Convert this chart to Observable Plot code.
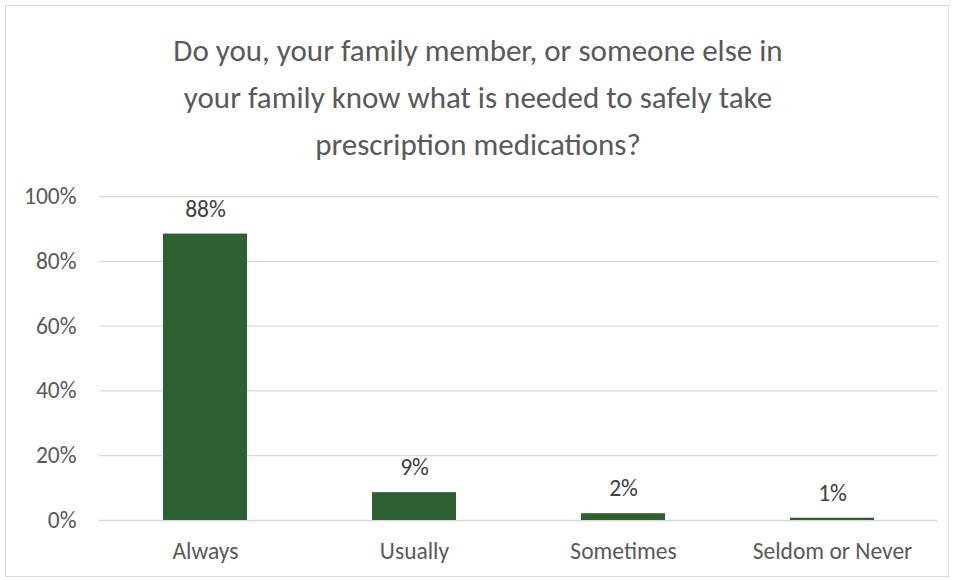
<!DOCTYPE html>
<html>
<head>
<meta charset="utf-8">
<script src="https://cdn.jsdelivr.net/npm/d3@7"></script>
<script src="https://cdn.jsdelivr.net/npm/@observablehq/plot@0.6"></script>
<style>
  html, body { margin: 0; padding: 0; background: #fff; }
  #wrap { position: relative; width: 956px; height: 580px; overflow: hidden; font-family: Carlito, Lato, sans-serif; }
  #frame { position: absolute; left: 5px; top: 5px; width: 944px; height: 572px; border: 1px solid #d9d9d9; box-sizing: border-box; }
  #title { position: absolute; left: 0; width: 956px; top: 27px; text-align: center; color: #595959; font-size: 31px; line-height: 47px; }
  #chart { position: absolute; left: 0; top: 170px; }
  #chart svg text { font-size: 23.5px !important; }
</style>
</head>
<body>
<div id="wrap">
  <div id="frame"></div>
  <div id="title">Do you, your family member, or someone else in<br>your family know what is needed to safely take<br>prescription medications?</div>
  <div id="chart"></div>
</div>
<script>
const categories = ["Always", "Usually", "Sometimes", "Seldom or Never"];
const values = [0.884, 0.086, 0.021, 0.007];
const yTicks = [0, 0.2, 0.4, 0.6, 0.8, 1.0];

const data = categories.map((c, i) => ({category: c, value: values[i]}));
const pct = d3.format(".0%");

const plot = Plot.plot({
  width: 956,
  height: 410,
  marginTop: 26,
  marginBottom: 60,
  marginLeft: 99,
  marginRight: 18,
  style: {fontFamily: "Carlito, Lato, sans-serif", fontSize: "23.5px", color: "#595959", background: "transparent"},
  x: {domain: categories, paddingInner: 0.6, paddingOuter: 0.3, label: null},
  y: {domain: [0, 1], label: null},
  marks: [
    Plot.ruleY(yTicks, {stroke: "#d9d9d9", strokeWidth: 1.3}),
    Plot.axisY(yTicks, {tickSize: 0, tickPadding: 23, tickFormat: pct, fill: "#595959", fontSize: 23.5, label: null}),
    Plot.axisX({tickSize: 0, tickPadding: 22, fill: "#595959", fontSize: 23.5, label: null}),
    Plot.barY(data, {x: "category", y: "value", fill: "#2f6034"}),
    Plot.text(data, {x: "category", y: "value", text: d => pct(d.value), dy: -25, fill: "#404040", fontSize: 23.5})
  ]
});
document.getElementById("chart").appendChild(plot);
</script>
</body>
</html>
